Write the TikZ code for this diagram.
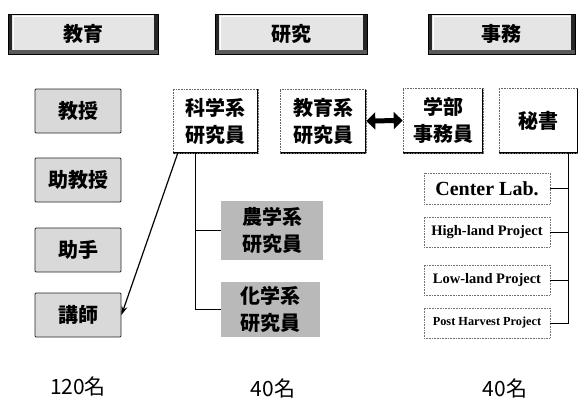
\documentclass[tikz,border=0pt]{standalone}
\usepackage{fontspec}
\setmainfont{Liberation Serif}
\newfontfamily\cjk{Noto Sans CJK JP}
\usetikzlibrary{arrows.meta}

\begin{document}
\begin{tikzpicture}[x=1pt,y=-1pt,
  headbox/.style={draw=black, line width=0.8pt, fill=gray!20, inner sep=0pt,
    font=\cjk\bfseries\fontsize{20}{24}\selectfont,
    path picture={
      \fill[black!85] (path picture bounding box.north west) rectangle ([xshift=4pt]path picture bounding box.south west);
      \fill[black!85] (path picture bounding box.north east) rectangle ([xshift=-4pt]path picture bounding box.south east);
      \fill[black!65] (path picture bounding box.south west) rectangle ([yshift=4pt]path picture bounding box.south east);
      \draw[white, line width=0.8pt] ([xshift=5pt,yshift=4.5pt]path picture bounding box.south west) -- ([xshift=5pt,yshift=-2pt]path picture bounding box.north west) -- ([xshift=-5pt,yshift=-2pt]path picture bounding box.north east);
    }},
  rankbox/.style={draw=black!85, line width=0.9pt, fill=gray!30, rounded corners=1pt,
    minimum width=86, minimum height=44, inner sep=0pt,
    font=\cjk\bfseries\fontsize{20}{24}\selectfont},
  staffbox/.style={draw=black!60, densely dotted, line width=0.6pt, fill=white,
    align=center, inner sep=0pt,
    font=\cjk\bfseries\fontsize{20}{27}\selectfont,
    path picture={
      \draw[black, solid, line width=1.4pt] (path picture bounding box.north east) -- (path picture bounding box.south east) -- (path picture bounding box.south west);
    }},
  darkbox/.style={fill=gray!55, align=center, inner sep=0pt,
    font=\cjk\bfseries\fontsize{20}{27}\selectfont},
  projbox/.style={draw=black!55, densely dotted, line width=0.6pt, fill=white,
    minimum width=126, minimum height=30, inner sep=0pt},
  countlabel/.style={font=\cjk\fontsize{21}{24}\selectfont},
  link/.style={black, line width=0.8pt}]
  \useasboundingbox (0,0) rectangle (578,399);

  % Column headers
  \node[headbox, minimum width=150, minimum height=40] (hEdu) at (83,34) {教育};
  \node[headbox, minimum width=152, minimum height=40] (hRes) at (291,34) {研究};
  \node[headbox, minimum width=147, minimum height=40] (hAdm) at (501.5,34) {事務};

  % Teaching staff
  \node[rankbox] (kyouju) at (78,111) {教授};
  \node[rankbox] (jokyouju) at (78,180) {助教授};
  \node[rankbox] (joshu) at (78,250) {助手};
  \node[rankbox] (koushi) at (78,315) {講師};

  % Research staff
  \node[staffbox, minimum width=85, minimum height=64] (kagaku) at (215.5,121) {科学系\\研究員};
  \node[staffbox, minimum width=86, minimum height=64] (kyoikuken) at (323,121) {教育系\\研究員};
  \node[darkbox, minimum width=102, minimum height=59] (nougaku) at (272,230.5) {農学系\\研究員};
  \node[darkbox, minimum width=99, minimum height=55] (kagaku2) at (270.5,309.5) {化学系\\研究員};

  % Office staff
  \node[staffbox, minimum width=80, minimum height=65] (gakubu) at (443,120.5) {学部\\事務員};
  \node[staffbox, minimum width=79, minimum height=65] (hisho) at (538.5,120.5) {秘書};
  \node[projbox, font=\bfseries\fontsize{20}{22}\selectfont, minimum height=31] (centerlab) at (487,188.5) {Center Lab.};
  \node[projbox, font=\bfseries\fontsize{14.5}{17}\selectfont] (highland) at (487,232) {High-land Project};
  \node[projbox, font=\bfseries\fontsize{14.5}{17}\selectfont] (lowland) at (487,280) {Low-land Project};
  \node[projbox, font=\bfseries\fontsize{12.3}{15}\selectfont] (postharvest) at (487,323) {Post Harvest Project};

  % Connectors
  \draw[link, line width=1.2pt, -{Stealth[length=9pt,width=6pt]}] ([xshift=5pt]kagaku.south west) -- (koushi.east);
  \draw[link] ([xshift=-20pt]kagaku.south) |- (kagaku2.west);
  \draw[link] ([xshift=-20pt]kagaku.south) |- (nougaku.west);
  \draw[black, line width=5pt, {Triangle[length=9pt,width=17pt]}-{Triangle[length=9pt,width=17pt]}] (kyoikuken.east) -- (gakubu.west);
  \draw[link] ([xshift=30pt]hisho.south) |- (postharvest.east);
  \draw[link] ([xshift=30pt]hisho.south) |- (centerlab.east);
  \draw[link] ([xshift=30pt]hisho.south) |- (highland.east);
  \draw[link] ([xshift=30pt]hisho.south) |- (lowland.east);

  % Head counts
  \node[countlabel] (nEdu) at (78,387) {120名};
  \node[countlabel] (nRes) at (273,389) {40名};
  \node[countlabel] (nAdm) at (505,389) {40名};
\end{tikzpicture}
\end{document}
